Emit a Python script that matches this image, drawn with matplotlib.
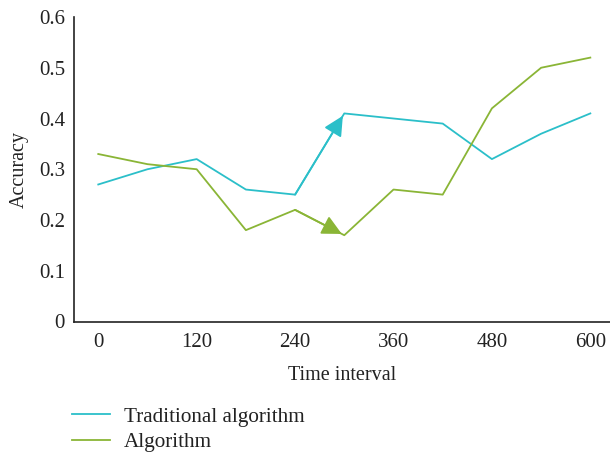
import matplotlib
matplotlib.use("Agg")
import matplotlib.pyplot as plt
from matplotlib.lines import Line2D

plt.rcParams['font.family'] = ['Liberation Serif', 'DejaVu Serif']

time = [0, 60, 120, 180, 240, 300, 360, 420, 480, 540, 600]
traditional = [0.27, 0.30, 0.32, 0.26, 0.25, 0.41, 0.40, 0.39, 0.32, 0.37, 0.41]
algorithm = [0.33, 0.31, 0.30, 0.18, 0.22, 0.17, 0.26, 0.25, 0.42, 0.50, 0.52]
xticks = [0, 120, 240, 360, 480, 600]
yticks = [0, 0.1, 0.2, 0.3, 0.4, 0.5, 0.6]
yticklabels = ['0', '0.1', '0.2', '0.3', '0.4', '0.5', '0.6']

c_trad = '#2bbfc9'
c_alg = '#8ab536'

fig = plt.figure(figsize=(6.1, 4.55), dpi=100)
ax = fig.add_axes([74/610, 1-321.5/455, 536/610, 304.5/455])

ax.plot(time, traditional, color=c_trad, lw=1.3)
ax.plot(time, algorithm, color=c_alg, lw=1.3)

for ys, c in [(traditional, c_trad), (algorithm, c_alg)]:
    ax.annotate('', xy=(time[5], ys[5]), xytext=(time[4], ys[4]),
                arrowprops=dict(arrowstyle='-|>,head_length=0.8,head_width=0.4',
                                mutation_scale=15,
                                color=c, lw=1.3, shrinkA=0, shrinkB=2))

ax.set_xlim(-29.6, 624)
ax.set_ylim(0, 0.6)
ax.set_xticks(xticks)
ax.set_yticks(yticks)
ax.set_yticklabels(yticklabels)
ax.tick_params(length=0, labelsize=15, pad=8, colors='#222222')
ax.tick_params(axis='y', pad=6.5)
for s in ['top', 'right']:
    ax.spines[s].set_visible(False)
for s in ['left', 'bottom']:
    ax.spines[s].set_linewidth(1.2)
    ax.spines[s].set_color('#222222')

ax.set_xlabel('Time interval', fontsize=14.5, labelpad=10, color='#222222')
ax.set_ylabel('Accuracy', fontsize=14.5, labelpad=7, color='#222222')

handles = [Line2D([], [], color=c_trad, lw=1.3), Line2D([], [], color=c_alg, lw=1.3)]
fig.legend(handles, ['Traditional algorithm', 'Algorithm'], loc='upper left',
           bbox_to_anchor=(54/610, 1-389/455), frameon=False, fontsize=15.2,
           handlelength=1.8, labelspacing=0.28, handletextpad=0.65,
           borderpad=0.35, labelcolor='#222222')

fig.savefig('out.png', dpi=100)
